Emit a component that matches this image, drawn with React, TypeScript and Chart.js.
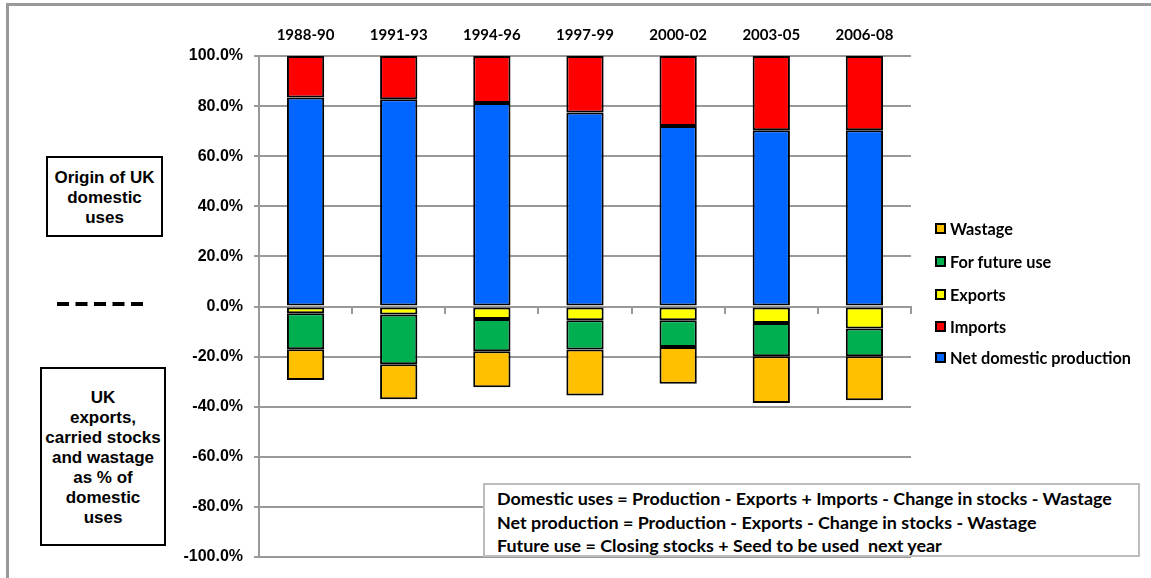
import React, { useEffect, useRef } from "react";
import { Chart, registerables } from "chart.js";

Chart.register(...registerables);

const categories = ["1988-90", "1991-93", "1994-96", "1997-99", "2000-02", "2003-05", "2006-08"];
const netDomestic = [83.4, 82.7, 81.2, 77.4, 72.1, 70.4, 70.4];
const imports = [16.6, 17.3, 18.8, 22.6, 27.9, 29.6, 29.6];
const exportsShare = [-2.7, -3.2, -5.0, -5.5, -5.5, -6.6, -8.8];
const futureUse = [-14.4, -19.9, -12.9, -11.7, -10.7, -13.3, -11.1];
const wastage = [-12.2, -13.9, -14.3, -18.3, -14.6, -18.6, -17.5];
const yTicks = [-100, -80, -60, -40, -20, 0, 20, 40, 60, 80, 100];

const seriesNames = ["Net domestic production", "Imports", "Exports", "For future use", "Wastage"];
const seriesColors = ["#0066FF", "#FF0000", "#FFFF00", "#00B050", "#FFC000"];
const seriesData = [netDomestic, imports, exportsShare, futureUse, wastage];

const formulaLines = [
  "Domestic uses = Production - Exports + Imports - Change in stocks - Wastage",
  "Net production = Production - Exports - Change in stocks - Wastage",
  "Future use = Closing stocks + Seed to be used  next year",
];

const GRID = "#999999";

export default function App() {
  const ref = useRef<HTMLCanvasElement | null>(null);

  useEffect(() => {
    if (!ref.current) return;
    const chart = new Chart(ref.current, {
      type: "bar",
      data: {
        labels: categories,
        datasets: seriesNames.map((name, i) => ({
          label: name,
          data: seriesData[i],
          backgroundColor: seriesColors[i],
          borderColor: "#000000",
          borderWidth: 2,
          borderSkipped: false,
          categoryPercentage: 1,
          barPercentage: 0.4,
        })),
      },
      options: {
        animation: false,
        responsive: true,
        maintainAspectRatio: false,
        layout: { padding: { left: 0, top: 0, right: 240, bottom: 21 } },
        plugins: { legend: { display: false }, tooltip: { enabled: false } },
        scales: {
          x: {
            stacked: true,
            position: "top",
            grid: { display: false, drawTicks: false },
            border: { display: false },
            ticks: {
              color: "#000",
              padding: 12,
              font: { family: "Lato", size: 15, weight: "bold" },
            },
            afterFit: (s: any) => {
              s.height = 56;
            },
          },
          x2: {
            type: "category",
            axis: "x",
            labels: categories,
            position: { y: 0 },
            offset: true,
            grid: {
              display: true,
              offset: true,
              drawOnChartArea: false,
              drawTicks: true,
              tickLength: 6,
              color: GRID,
              lineWidth: 2,
            },
            border: { display: true, color: GRID, width: 2 },
            ticks: { display: false },
          },
          y: {
            stacked: true,
            min: -100,
            max: 100,
            afterBuildTicks: (s: any) => {
              s.ticks = yTicks.map((v) => ({ value: v }));
            },
            grid: { color: GRID, lineWidth: 2, tickLength: 5 },
            border: { display: true, color: GRID, width: 2 },
            ticks: {
              color: "#000",
              padding: 11,
              font: { family: "'Liberation Sans', Arial", size: 16, weight: "bold" },
              callback: (v: any) => `${Number(v).toFixed(1)}%`,
            },
            afterFit: (s: any) => {
              s.width = 259;
            },
          },
        },
      },
    });
    return () => chart.destroy();
  }, []);

  const boxFont: React.CSSProperties = {
    fontFamily: "'Liberation Sans', Arial, sans-serif",
    fontWeight: "bold",
    fontSize: 17,
    lineHeight: "20px",
    textAlign: "center",
    color: "#000",
    whiteSpace: "nowrap",
  };

  const legendOrder = [4, 3, 2, 1, 0];
  const legendY = [228.3, 261.7, 294, 326, 357.3];

  return (
    <div style={{ position: "absolute", left: 0, top: 0, width: 1151, height: 578, overflow: "hidden", background: "#fff" }}>
      <canvas ref={ref} style={{ position: "absolute", left: 0, top: 0 }} />
      <div
        style={{
          position: "absolute",
          left: 6,
          top: 3,
          width: 1300,
          height: 800,
          border: "3px solid #999",
          pointerEvents: "none",
        }}
      />
      <div
        style={{
          ...boxFont,
          position: "absolute",
          left: 46,
          top: 156,
          width: 117,
          height: 81,
          boxSizing: "border-box",
          border: "2px solid #000",
          paddingTop: 10,
          background: "#fff",
        }}
      >
        Origin of UK
        <br />
        domestic
        <br />
        uses
      </div>
      <svg style={{ position: "absolute", left: 55, top: 300 }} width={92} height={8}>
        <line x1={2} y1={4} x2={88} y2={4} stroke="#000" strokeWidth={4} strokeDasharray="12 6.5" />
      </svg>
      <div
        style={{
          ...boxFont,
          position: "absolute",
          left: 40,
          top: 367,
          width: 126,
          height: 179,
          boxSizing: "border-box",
          border: "2px solid #000",
          paddingTop: 19,
          background: "#fff",
        }}
      >
        UK
        <br />
        exports,
        <br />
        carried stocks
        <br />
        and wastage
        <br />
        as % of
        <br />
        domestic
        <br />
        uses
      </div>
      {legendOrder.map((idx, k) => (
        <div
          key={idx}
          style={{
            position: "absolute",
            left: 935,
            top: legendY[k] - 10,
            height: 20,
            display: "flex",
            alignItems: "center",
            fontFamily: "Lato, sans-serif",
            fontWeight: "bold",
            fontSize: 16.3,
            color: "#000",
            whiteSpace: "nowrap",
          }}
        >
          <span
            style={{
              display: "inline-block",
              width: 11,
              height: 11,
              boxSizing: "border-box",
              border: "2px solid #000",
              background: seriesColors[idx],
              marginRight: 4,
            }}
          />
          {seriesNames[idx]}
        </div>
      ))}
      <div
        style={{
          position: "absolute",
          left: 483,
          top: 483,
          width: 657,
          height: 74,
          boxSizing: "border-box",
          border: "2px solid #bdbdbd",
          background: "#fff",
          paddingLeft: 12,
          paddingTop: 2,
          fontFamily: "Lato, sans-serif",
          fontWeight: "bold",
          fontSize: 17.9,
          lineHeight: "23.5px",
          color: "#000",
          whiteSpace: "nowrap",
        }}
      >
        {formulaLines.map((l, i) => (
          <div key={i} style={{ whiteSpace: "pre" }}>
            {l}
          </div>
        ))}
      </div>
    </div>
  );
}
